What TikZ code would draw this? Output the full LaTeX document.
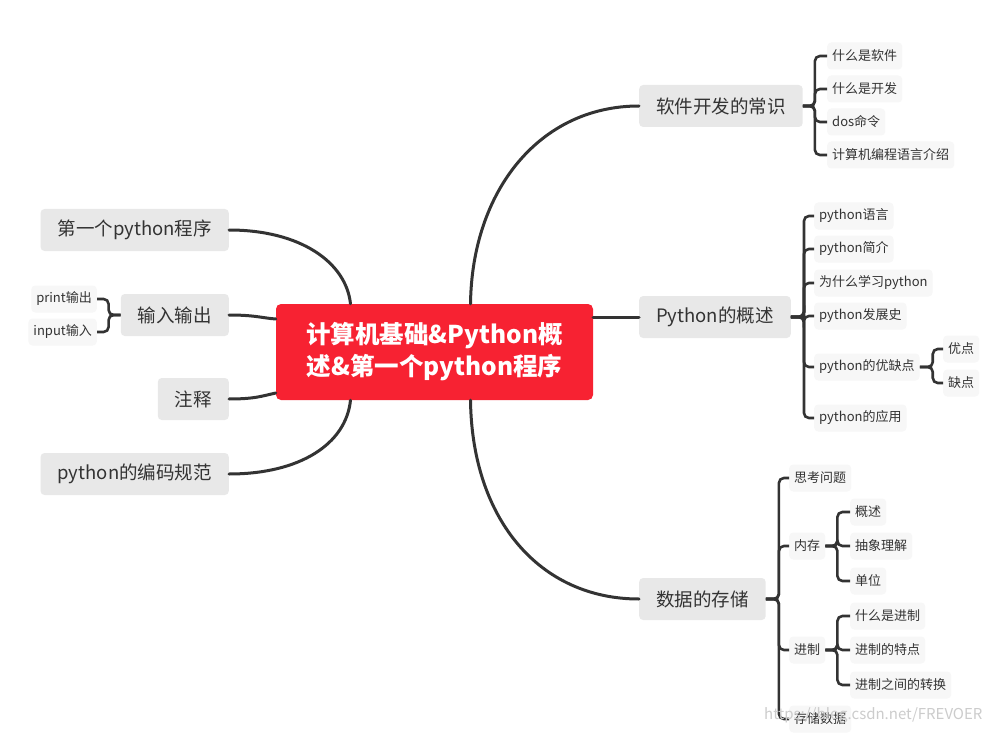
\documentclass[tikz,border=0pt]{standalone}
\usepackage{fontspec}
\setmainfont{Noto Sans CJK SC}
\usetikzlibrary{positioning,calc}
\definecolor{ink}{HTML}{333333}
\definecolor{hot}{HTML}{F72232}
\definecolor{shade}{HTML}{E8E8E8}
\definecolor{paper}{HTML}{F7F7F7}

\begin{document}
\begin{tikzpicture}[
  x=1pt, y=-1pt,
  root/.style  = {fill=hot, rounded corners=5pt, text=white, align=center,
                  font=\fontsize{24.5}{32}\selectfont\bfseries,
                  minimum width=317pt, minimum height=96pt},
  topic/.style = {fill=shade, rounded corners=4pt, text=ink, inner xsep=17pt,
                  font=\fontsize{18.5}{20}\selectfont, minimum height=42pt},
  leaf/.style  = {fill=paper, rounded corners=4pt, text=ink, inner xsep=5pt,
                  font=\fontsize{13}{15}\selectfont, minimum height=27pt},
  limb/.style  = {draw=ink, line width=3pt, line cap=round},
  twig/.style  = {draw=ink, line width=2.6pt, rounded corners=5pt},
]
\fill[white] (0,0) rectangle (994,733);
\useasboundingbox (0,0) rectangle (994,733);

% ---- centre -----------------------------------------------------------
\node[root] at (434.5,352) (ctr) {计算机基础\&Python概\\述\&第一个python程序};

% ---- right topics -----------------------------------------------------
\node[topic, anchor=west] at (639,106) (sw) {软件开发的常识};
\node[topic, anchor=west, minimum width=150pt] at (639,317) (py) {Python的概述};
\node[topic, anchor=west] at (639,599) (ds) {数据的存储};

% ---- left topics ------------------------------------------------------
\node[topic, anchor=east, minimum width=186pt] at (229,230) (fp) {第一个python程序};
\node[topic, anchor=east] at (229,315) (io) {输入输出};
\node[topic, anchor=east] at (229,399) (nt) {注释};
\node[topic, anchor=east, minimum width=186pt] at (229,474) (cs) {python的编码规范};

% ---- leaves: software -------------------------------------------------
\node[leaf, anchor=west] at (827,56)  (sw1) {什么是软件};
\node[leaf, anchor=west] at (827,89)  (sw2) {什么是开发};
\node[leaf, anchor=west] at (827,122) (sw3) {dos命令};
\node[leaf, anchor=west] at (827,155) (sw4) {计算机编程语言介绍};

% ---- leaves: python ---------------------------------------------------
\node[leaf, anchor=west] at (814,216) (py1) {python语言};
\node[leaf, anchor=west] at (814,249) (py2) {python简介};
\node[leaf, anchor=west] at (814,283) (py3) {为什么学习python};
\node[leaf, anchor=west] at (814,316) (py4) {python发展史};
\node[leaf, anchor=west] at (814,367) (py5) {python的优缺点};
\node[leaf, anchor=west] at (814,418) (py6) {python的应用};
\node[leaf, anchor=west] at (943,349) (pc1) {优点};
\node[leaf, anchor=west] at (943,383) (pc2) {缺点};

% ---- leaves: storage --------------------------------------------------
\node[leaf, anchor=west] at (789,478) (ds1) {思考问题};
\node[leaf, anchor=west] at (789,546) (ds2) {内存};
\node[leaf, anchor=west] at (789,650) (ds3) {进制};
\node[leaf, anchor=west] at (789,719) (ds4) {存储数据};
\node[leaf, anchor=west] at (850,512) (me1) {概述};
\node[leaf, anchor=west] at (850,546) (me2) {抽象理解};
\node[leaf, anchor=west] at (850,581) (me3) {单位};
\node[leaf, anchor=west] at (850,616) (ba1) {什么是进制};
\node[leaf, anchor=west] at (850,650) (ba2) {进制的特点};
\node[leaf, anchor=west] at (850,685) (ba3) {进制之间的转换};

% ---- leaves: io -------------------------------------------------------
\node[leaf, anchor=east] at (97,299) (io1) {print输出};
\node[leaf, anchor=east] at (97,332) (io2) {input输入};

% ---- limbs from the centre --------------------------------------------
\coordinate (ctrNE) at ($(ctr.north)+(36,0)$);
\coordinate (ctrSE) at ($(ctr.south)+(36,0)$);
\coordinate (ctrNW) at ($(ctr.north)+(-84,0)$);
\coordinate (ctrSW) at ($(ctr.south)+(-84,0)$);
\draw[limb] (ctrNE) .. controls (472,190) and (540,106) .. (sw.west);
\draw[limb] (ctr.east |- py.west) -- (py.west);
\draw[limb] (ctrSE) .. controls (472,520) and (540,599) .. (ds.west);
\draw[limb] (fp.east) .. controls (300,230) and (346,262) .. (ctrNW);
\draw[limb] (io.east) .. controls (255,315) and (262,318) .. ($(ctr.west)+(0,-33)$);
\draw[limb] (nt.east) .. controls (255,399) and (262,396) .. ($(ctr.west)+(0,41)$);
\draw[limb] (cs.east) .. controls (300,474) and (346,444) .. (ctrSW);

% ---- brackets ---------------------------------------------------------
\coordinate (swb) at ($(sw.east)+(12,0)$);
\foreach \n in {sw1,sw2,sw3,sw4}
  \draw[twig] (sw.east) -- (swb) |- (\n.west);
\coordinate (pyb) at ($(py.east)+(13,0)$);
\foreach \n in {py1,py2,py3,py4,py5,py6}
  \draw[twig] (py.east) -- (pyb) |- (\n.west);
\coordinate (pcb) at ($(py5.east)+(13,0)$);
\foreach \n in {pc1,pc2}
  \draw[twig] (py5.east) -- (pcb) |- (\n.west);
\coordinate (dsb) at ($(ds.east)+(13,0)$);
\foreach \n in {ds1,ds2,ds3,ds4}
  \draw[twig] (ds.east) -- (dsb) |- (\n.west);
\coordinate (meb) at ($(ds2.east)+(12,0)$);
\foreach \n in {me1,me2,me3}
  \draw[twig] (ds2.east) -- (meb) |- (\n.west);
\coordinate (bab) at ($(ds3.east)+(12,0)$);
\foreach \n in {ba1,ba2,ba3}
  \draw[twig] (ds3.east) -- (bab) |- (\n.west);
\coordinate (iob) at ($(io.west)+(-12,0)$);
\foreach \n in {io1,io2}
  \draw[twig] (io.west) -- (iob) |- (\n.east);

% watermark
\node[text=gray!40, font=\fontsize{15}{17}\selectfont, anchor=east] at (986,715) (wm)
  {https://blog.csdn.net/FREVOER};

\end{tikzpicture}
\end{document}
